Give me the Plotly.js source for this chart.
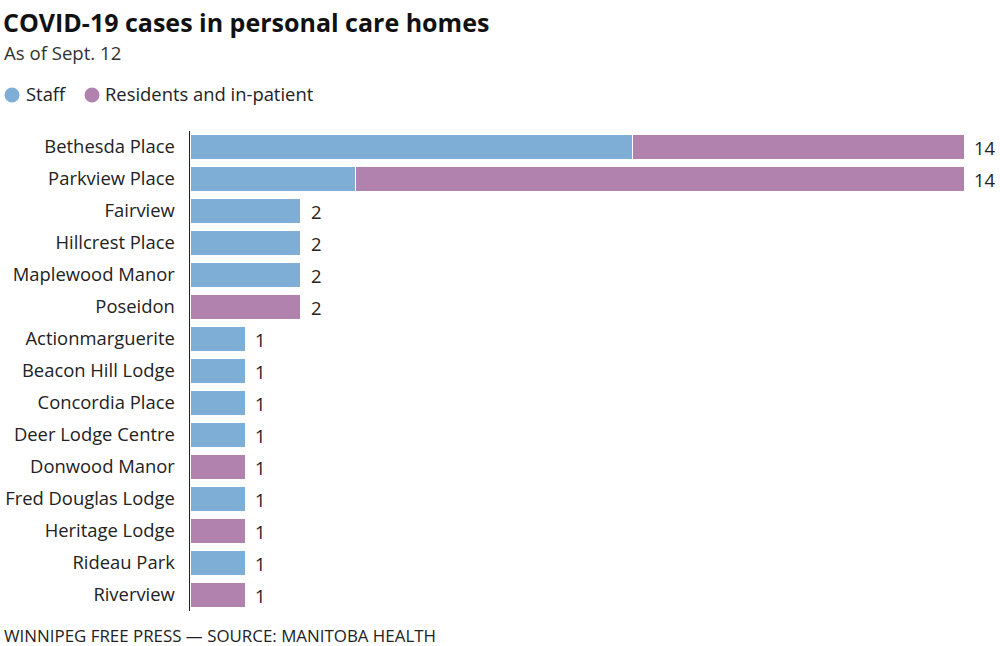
<!DOCTYPE html>
<html>
<head>
<meta charset="utf-8">
<script src="https://cdn.plot.ly/plotly-3.0.1.min.js"></script>
<style>html,body{margin:0;padding:0;background:#fff;}#chart{width:1000px;height:646px;}</style>
</head>
<body>
<div id="chart"></div>
<script>
const homes = ["Bethesda Place","Parkview Place","Fairview","Hillcrest Place","Maplewood Manor","Poseidon","Actionmarguerite","Beacon Hill Lodge","Concordia Place","Deer Lodge Centre","Donwood Manor","Fred Douglas Lodge","Heritage Lodge","Rideau Park","Riverview"];
const staff =     [8, 3, 2, 2, 2, 0, 1, 1, 1, 1, 0, 1, 0, 1, 0];
const residents = [6, 11, 0, 0, 0, 2, 0, 0, 0, 0, 1, 0, 1, 0, 1];
const seriesNames = ["Staff", "Residents and in-patient"];
const totals = homes.map((h, i) => staff[i] + residents[i]);

const BLUE = "#7eaed6", PURPLE = "#b082ad";
const FONT = "'Open Sans', 'Noto Sans', sans-serif";
const W = 1000, H = 646, L = 190, R = 10, T = 131, B = 35;
const pw = W - L - R;
const px = x => (x - L) / pw;
const py = y => 1 - (y - T) / (H - T - B);

const nz = a => a.map(v => v === 0 ? null : v);

const traces = [
  {type: "bar", orientation: "h", y: homes, x: nz(staff), name: seriesNames[0], showlegend: false,
   marker: {color: BLUE, line: {color: "#ffffff", width: 1}}, hoverinfo: "skip"},
  {type: "bar", orientation: "h", y: homes, x: nz(residents), name: seriesNames[1], showlegend: false,
   marker: {color: PURPLE, line: {color: "#ffffff", width: 1}}, hoverinfo: "skip"}
];

const annotations = [
  {text: "<b>COVID-19 cases in personal care homes</b>", xref: "paper", yref: "paper", x: px(1), y: py(22),
   xanchor: "left", yanchor: "middle", showarrow: false, font: {family: FONT, size: 25, color: "#111"}},
  {text: "As of Sept. 12", xref: "paper", yref: "paper", x: px(2), y: py(53),
   xanchor: "left", yanchor: "middle", showarrow: false, font: {family: FONT, size: 18.6, color: "#333"}},
  {text: "WINNIPEG FREE PRESS — SOURCE: MANITOBA HEALTH", xref: "paper", yref: "paper", x: px(2), y: py(635),
   xanchor: "left", yanchor: "middle", showarrow: false, font: {family: FONT, size: 16.9, color: "#222"}},
  {text: seriesNames[0], xref: "paper", yref: "paper", x: px(24), y: py(94),
   xanchor: "left", yanchor: "middle", showarrow: false, font: {family: FONT, size: 18.4, color: "#222"}},
  {text: seriesNames[1], xref: "paper", yref: "paper", x: px(103), y: py(94),
   xanchor: "left", yanchor: "middle", showarrow: false, font: {family: FONT, size: 18.4, color: "#222"}}
];
homes.forEach((h, i) => {
  annotations.push({text: String(totals[i]), x: totals[i], y: h, xref: "x", yref: "y",
    xanchor: "left", yanchor: "middle", xshift: 8, showarrow: false,
    font: {family: FONT, size: 18.4, color: "#222"}});
});

const legendDot = (cx, color) => ({type: "circle", xref: "paper", yref: "paper",
  x0: px(cx - 7.5), x1: px(cx + 7.5), y0: py(95 + 7.5), y1: py(95 - 7.5),
  fillcolor: color, line: {width: 0}});

const layout = {
  width: W, height: H,
  margin: {l: L, r: R, t: T, b: B},
  paper_bgcolor: "#fff", plot_bgcolor: "#fff",
  barmode: "stack", bargap: 0.19,
  font: {family: FONT, size: 18.4, color: "#222"},
  showlegend: false,
  xaxis: {range: [0, pw / 55.3], showgrid: false, zeroline: false, showticklabels: false, showline: false, fixedrange: true},
  yaxis: {autorange: "reversed", showgrid: false, zeroline: false, showline: true, linecolor: "#222", linewidth: 1.5,
    ticks: "", ticklabelstandoff: 10, tickfont: {family: FONT, size: 18.4, color: "#222"}},
  shapes: [legendDot(12, BLUE), legendDot(92, PURPLE)],
  annotations: annotations
};

Plotly.newPlot("chart", traces, layout, {displayModeBar: false, staticPlot: true});
</script>
</body>
</html>
